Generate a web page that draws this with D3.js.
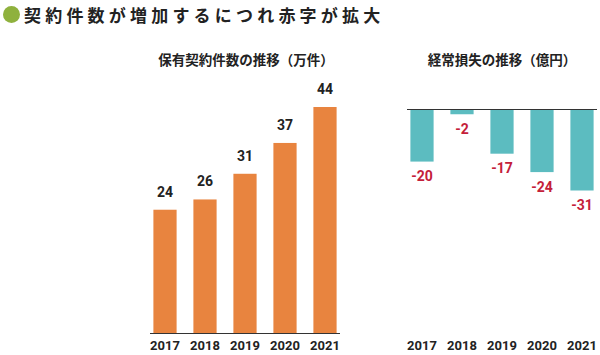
<!DOCTYPE html>
<html><head><meta charset="utf-8">
<script src="https://cdn.jsdelivr.net/npm/d3@7"></script>
<style>body{margin:0;background:#fff}svg{display:block}</style>
</head><body>
<svg id="c" width="600" height="355"></svg>
<script>
const title = "契約件数が増加するにつれ赤字が拡大";
const years = ["2017","2018","2019","2020","2021"];
const contracts = [24,26,31,37,44];
const losses = [-20,-2,-17,-24,-31];
const leftTitle = "保有契約件数の推移（万件）";
const rightTitle = "経常損失の推移（億円）";

const svg = d3.select("#c");
const cjk = "'Noto Sans CJK JP', sans-serif";
const num = "Roboto, 'DejaVu Sans', sans-serif";

svg.append("circle").attr("cx",11.5).attr("cy",14.5).attr("r",8.5).attr("fill","#8fb13d");
svg.append("text").attr("x",24).attr("y",21.5).text(title)
  .attr("font-family",cjk).attr("font-weight","bold").attr("font-size",17)
  .attr("letter-spacing","4.2px").attr("fill","#222");

// Left chart
const xL = d3.scaleBand().domain(years).range([145,345]).paddingInner(0.42).paddingOuter(0.21);
const yL = d3.scaleLinear().domain([0,44]).range([333,107]);
svg.append("text").attr("x",246).attr("y",65).attr("text-anchor","middle").text(leftTitle)
  .attr("font-family",cjk).attr("font-weight","bold").attr("font-size",13.5).attr("fill","#222");
svg.selectAll(".lb").data(contracts).enter().append("rect")
  .attr("x",(d,i)=>xL(years[i])).attr("width",xL.bandwidth())
  .attr("y",d=>yL(d)).attr("height",d=>yL(0)-yL(d)).attr("fill","#e8843f");
svg.selectAll(".lv").data(contracts).enter().append("text")
  .attr("x",(d,i)=>xL(years[i])+xL.bandwidth()/2).attr("y",d=>yL(d)-13)
  .attr("text-anchor","middle").text(d=>d)
  .attr("font-family",num).attr("font-weight","bold").attr("font-size",14).attr("fill","#222");
const axL = svg.append("g").attr("transform","translate(0,333)").call(d3.axisBottom(xL).tickSize(0).tickPadding(8));
axL.select(".domain").attr("d","M150,0.5H340").attr("stroke","#333");
axL.selectAll("text").attr("font-family",num).attr("font-weight","bold").attr("font-size",13).attr("fill","#222");

// Right chart
const xR = d3.scaleBand().domain(years).range([402,602]).paddingInner(0.42).paddingOuter(0.21);
const yR = d3.scaleLinear().domain([-31,0]).range([190.5,109]);
svg.append("text").attr("x",502).attr("y",65).attr("text-anchor","middle").text(rightTitle)
  .attr("font-family",cjk).attr("font-weight","bold").attr("font-size",13.5).attr("fill","#222");
svg.selectAll(".rb").data(losses).enter().append("rect")
  .attr("x",(d,i)=>xR(years[i])).attr("width",xR.bandwidth())
  .attr("y",yR(0)).attr("height",d=>yR(d)-yR(0)).attr("fill","#5cbcc0");
svg.append("line").attr("x1",407).attr("x2",597).attr("y1",yR(0)+0.5).attr("y2",yR(0)+0.5).attr("stroke","#333");
svg.selectAll(".rv").data(losses).enter().append("text")
  .attr("x",(d,i)=>xR(years[i])+xR.bandwidth()/2).attr("y",d=>yR(d)+19.5)
  .attr("text-anchor","middle").text(d=>d)
  .attr("font-family",num).attr("font-weight","bold").attr("font-size",14).attr("fill","#c4203a");
const axR = svg.append("g").attr("transform","translate(0,333)").call(d3.axisBottom(xR).tickSize(0).tickPadding(8));
axR.select(".domain").remove();
axR.selectAll("text").attr("font-family",num).attr("font-weight","bold").attr("font-size",13).attr("fill","#222");
</script>
</body></html>
